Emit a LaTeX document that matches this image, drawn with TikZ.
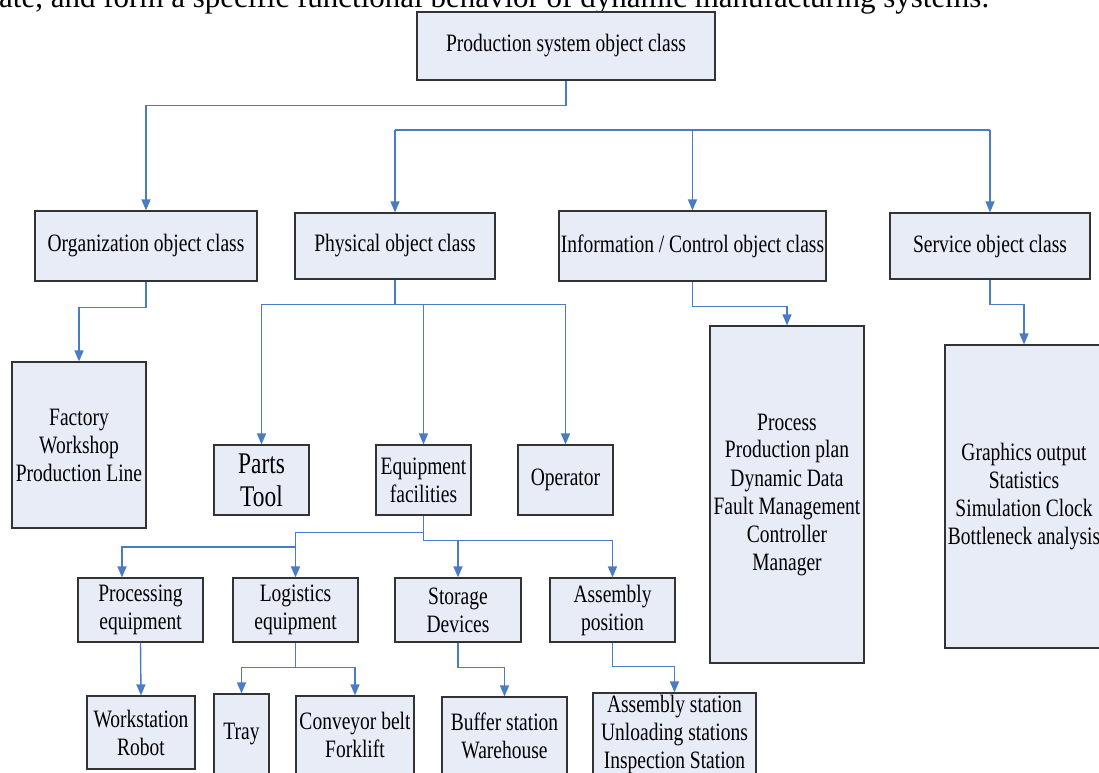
\documentclass[tikz,border=0pt]{standalone}
\usepackage{fontspec}
\setmainfont{Liberation Serif}
\newfontfamily\condfont{Liberation Serif}[FakeStretch=0.78]
\usetikzlibrary{arrows.meta}
\definecolor{boxfill}{HTML}{E8ECF7}
\definecolor{boxline}{HTML}{333333}
\definecolor{linkblue}{HTML}{4A7BC6}
\tikzset{
  box/.style={draw=boxline, line width=1.2pt, fill=boxfill, align=center, inner sep=0pt,
    font=\condfont\fontsize{25}{28}\selectfont},
  bigbox/.style={box, font=\condfont\fontsize{30}{33}\selectfont},
  link/.style={draw=linkblue, line width=1.4pt},
  arr/.style={link, -{Triangle[length=11pt,width=9pt]}}
}
\begin{document}
\begin{tikzpicture}[x=1pt,y=-1pt]
\useasboundingbox (0,0) rectangle (1099,772);
\clip (0,0) rectangle (1099,772);
\fill[white] (0,0) rectangle (1099,772);
% cut-off text line from the page above
\node[anchor=base west, inner sep=0pt, font=\fontsize{31}{34}\selectfont] (pagetext) at (-1,7)
  {ate, and form a specific functional behavior of dynamic manufacturing systems.};
% nodes
\node[box, minimum width=298pt, minimum height=68pt] (top) at (566,46) {Production system object class};
\node[box, minimum width=222pt, minimum height=70pt] (org) at (146,246) {Organization object class};
\node[box, minimum width=200pt, minimum height=66pt] (phys) at (395,246) {Physical object class};
\node[box, minimum width=267pt, minimum height=70pt] (info) at (692.5,246) {Information / Control object class};
\node[box, minimum width=200pt, minimum height=66pt] (serv) at (990,246) {Service object class};
\node[box, minimum width=134pt, minimum height=166pt] (fact) at (79,445) {Factory\\Workshop\\Production Line};
\node[bigbox, minimum width=95pt, minimum height=70pt] (parts) at (261.5,480) {Parts\\Tool};
\node[box, minimum width=95pt, minimum height=70pt] (equip) at (423.5,480) {Equipment\\facilities};
\node[box, minimum width=95pt, minimum height=70pt] (oper) at (565.5,480) {Operator};
\node[box, minimum width=154pt, minimum height=337pt] (infolist) at (787,494.5)
  {Process\\Production plan\\Dynamic Data\\Fault Management\\Controller\\Manager};
\node[box, minimum width=158pt, minimum height=303pt] (servlist) at (1024,496.5)
  {Graphics output\\Statistics\\Simulation Clock\\Bottleneck analysis};
\node[box, minimum width=125pt, minimum height=64pt] (proc) at (140.5,610) {Processing\\equipment};
\node[box, minimum width=125pt, minimum height=64pt] (logi) at (295.5,610) {Logistics\\equipment};
\node[box, minimum width=126pt, minimum height=64pt] (stor) at (458,610) {Storage\\Devices};
\node[box, minimum width=125pt, minimum height=64pt] (asm) at (612.5,610) {Assembly\\position};
\node[box, minimum width=108pt, minimum height=73pt] (work) at (141,732.5) {Workstation\\Robot};
\node[box, minimum width=55pt, minimum height=80pt] (tray) at (241.5,734) {Tray};
\node[box, minimum width=118pt, minimum height=78pt] (conv) at (355,735) {Conveyor belt\\Forklift};
\node[box, minimum width=125pt, minimum height=78pt] (buf) at (504.5,736) {Buffer station\\Warehouse};
\node[box, minimum width=163pt, minimum height=82pt] (asmst) at (674.5,734)
  {Assembly station\\Unloading stations\\Inspection Station};
% connectors
\draw[arr] (top.south) -- ++(0,25) -| (org.north);
\coordinate (busl) at (395,130);
\coordinate (busr) at (990,130);
\draw[link] (busl) -- (busr);
\draw[arr] (busl) -- (phys.north);
\draw[arr] (info.north |- busl) -- (info.north);
\draw[arr] (busr) -- (serv.north);
\draw[arr] (org.south) -- ++(0,26) -| (fact.north);
\coordinate (pj) at ([yshift=-25pt]phys.south);
\draw[arr] (pj) -| (parts.north);
\draw[link] (phys.south) -- (pj);
\draw[arr] (pj) -| (oper.north);
\draw[arr] (equip.north |- pj) -- (equip.north);
\draw[arr] (info.south) -- ++(0,25) -| (infolist.north);
\draw[arr] (serv.south) -- ++(0,25) -| (servlist.north);
% equipment facilities children
\coordinate (ej1) at ([yshift=-17pt]equip.south);
\coordinate (ej2) at (logi.north |- 0,547);
\draw[arr] (equip.south) -- (ej1) -| (logi.north);
\draw[arr] (ej2) -| ([xshift=-18.5pt]proc.north);
\coordinate (ej3) at ([yshift=-25pt]equip.south);
\draw[arr] (ej1) -- (ej3) -| (asm.north);
\draw[arr] (stor.north |- ej3) -- (stor.north);
% third level
\draw[arr] (proc.south) -- (work.north);
\draw[arr] (logi.south) -- ++(0,25) -| (tray.north);
\draw[arr] (logi.south) -- ++(0,25) -| (conv.north);
\draw[arr] (stor.south) -- ++(0,25) -| (buf.north);
\draw[arr] (asm.south) -- ++(0,24) -| (asmst.north);
\end{tikzpicture}
\end{document}
